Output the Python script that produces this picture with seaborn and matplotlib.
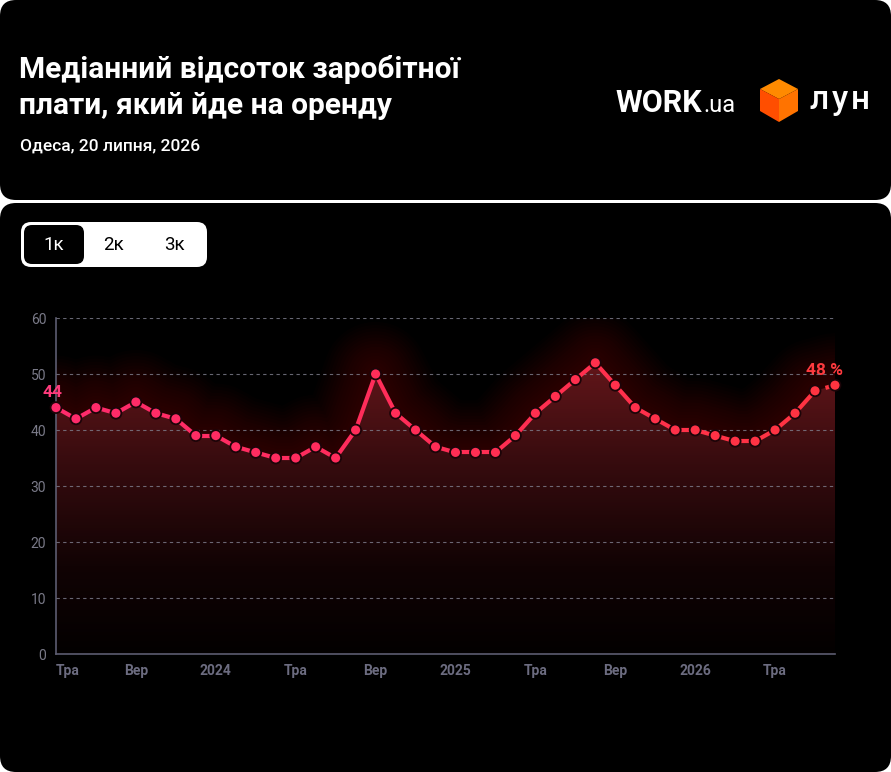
import numpy as np
import matplotlib
matplotlib.use("Agg")
import matplotlib.pyplot as plt
import seaborn as sns
from matplotlib.patches import FancyBboxPatch, Polygon
from matplotlib.collections import LineCollection
from matplotlib.colors import LinearSegmentedColormap

# monthly median share of salary spent on rent, May 2023 .. Aug 2026
share = [44, 42, 44, 43, 45, 43, 42, 39, 39, 37, 36, 35, 35, 37, 35, 40, 50, 43,
         40, 37, 36, 36, 36, 39, 43, 46, 49, 52, 48, 44, 42, 40, 40, 39, 38, 38,
         40, 43, 47, 48]
tick_pos = [0, 4, 8, 12, 16, 20, 24, 28, 32, 36]
tick_labels = ["Тра", "Вер", "2024", "Тра", "Вер", "2025", "Тра", "Вер", "2026", "Тра"]
y_ticks = [0, 10, 20, 30, 40, 50, 60]
tabs = ["1к", "2к", "3к"]
title_lines = ["Медіанний відсоток заробітної", "плати, який йде на оренду"]
subtitle = "Одеса, 20 липня, 2026"

sns.set_theme(style="white")
plt.rcParams["font.family"] = ["Roboto", "DejaVu Sans"]

W, H = 891, 772
fig = plt.figure(figsize=(W / 100, H / 100), dpi=100, facecolor="white")

# background layer in pixel coordinates
bg = fig.add_axes([0, 0, 1, 1])
bg.set_xlim(0, W)
bg.set_ylim(H, 0)
bg.axis("off")
for y0, y1 in [(0, 200), (203, H)]:
    bg.add_patch(FancyBboxPatch((0, y0), W, y1 - y0,
                                boxstyle="round,pad=0,rounding_size=16",
                                fc="black", ec="none"))

# header
bg.text(19, 78, title_lines[0], color="white", fontsize=21.5, weight="bold", va="baseline")
bg.text(19, 114, title_lines[1], color="white", fontsize=21.5, weight="bold", va="baseline")
bg.text(20, 150, subtitle, color="white", fontsize=12.5, weight="medium", va="baseline")

# logos
bg.text(615, 112, "WORK", color="white", fontsize=22, weight="bold", va="baseline")
bg.text(703, 112, ".ua", color="white", fontsize=17, va="baseline")
cube = {
    "top": ([(779, 79), (798, 89), (779, 99), (760, 89)], "#ff8a00"),
    "left": ([(760, 89), (779, 99), (779, 122), (760, 111)], "#ff4e00"),
    "right": ([(779, 99), (798, 89), (798, 111), (779, 122)], "#ff7300"),
}
for pts, col in cube.values():
    bg.add_patch(Polygon(pts, closed=True, fc=col, ec="none"))
for cx, ch in zip([819, 840, 860], "лун"):
    bg.text(cx, 109, ch, color="white", fontsize=24, weight="medium",
            ha="center", va="baseline")

# tabs
bg.add_patch(FancyBboxPatch((21, 222), 186, 45, boxstyle="round,pad=0,rounding_size=10",
                            fc="white", ec="none"))
bg.add_patch(FancyBboxPatch((24, 225), 60, 39, boxstyle="round,pad=0,rounding_size=8",
                            fc="black", ec="none"))
for i, t in enumerate(tabs):
    bg.text(54 + i * 60, 245, t, color="white" if i == 0 else "black",
            fontsize=13.5, ha="center", va="center")

# chart
ax = fig.add_axes([56 / W, 1 - 654 / H, (835 - 56) / W, (654 - 318) / H])
ax.set_facecolor("none")
x = np.arange(len(share))
y = np.array(share)

# soft glow around the line
for lw in np.linspace(8, 75, 16):
    sns.lineplot(x=x, y=y, ax=ax, color="#9a1020", linewidth=lw, alpha=0.022,
                 solid_capstyle="round", solid_joinstyle="round", zorder=1)

# gradient fill under the line
poly = ax.fill_between(x, y, 0, facecolor="none", edgecolor="none")
fill_cmap = LinearSegmentedColormap.from_list(
    "fill", [(0, "#030000"), (0.3, "#110304"), (0.65, "#360b0e"), (1, "#62161a")])
grad = np.linspace(0, 1, 256).reshape(-1, 1)
im = ax.imshow(grad, extent=[0, len(share) - 1, 0, 52], origin="lower",
               cmap=fill_cmap, aspect="auto", zorder=2)
im.set_clip_path(poly.get_paths()[0], transform=ax.transData)

# line with colour shift pink -> red
line_cmap = LinearSegmentedColormap.from_list("line", ["#ff2b6c", "#ff2d55", "#ff3440"])
pts = np.column_stack([x, y])
segs = np.stack([pts[:-2], pts[1:-1]], axis=1)
cols = line_cmap(x[:-2] / (len(x) - 1))
ax.add_collection(LineCollection(segs, colors=cols, linewidths=3, zorder=4,
                                 capstyle="round"))
ax.plot(x[-2:], y[-2:], color="#ff3440", linewidth=3, dashes=(1.3, 1.3), zorder=4)

sns.scatterplot(x=x, y=y, hue=x, palette=line_cmap, legend=False, ax=ax, s=62,
                edgecolor="#1c0408", linewidth=1.3, zorder=5, clip_on=False)

ax.text(-0.15, 46.7, f"{share[0]}", color="#ff3b7c", fontsize=12.5, weight="bold",
        ha="center", va="center")
ax.text(38.45, 50.7, f"{share[-1]} %", color="#ff3a3f", fontsize=12.5, weight="bold",
        ha="center", va="center")

ax.set_xlim(0, len(share) - 1)
ax.set_ylim(0, 60)
ax.set_yticks(y_ticks)
ax.set_xticks(tick_pos)
ax.set_xticklabels(tick_labels)
ax.set_xlabel("")
ax.set_ylabel("")
for yt in y_ticks[1:]:
    ax.axhline(yt, color="#80808f", linewidth=0.8, dashes=(3, 3), alpha=0.8, zorder=3)
for side in ["top", "right"]:
    ax.spines[side].set_visible(False)
for side in ["left", "bottom"]:
    ax.spines[side].set_color("#5c5c70")
    ax.spines[side].set_linewidth(1.2)
ax.tick_params(axis="x", colors="#5c5c70", length=4, width=1, pad=3, labelsize=10,
               labelcolor="#6c6c80")
ax.tick_params(axis="y", colors="#5c5c70", length=4, width=1, pad=3, labelsize=10,
               labelcolor="#7a7a88")
for i, lab in enumerate(ax.get_xticklabels()):
    lab.set_fontweight("bold")
    if i == 0:
        lab.set_horizontalalignment("left")

fig.savefig("out.png", dpi=100, facecolor="white")
